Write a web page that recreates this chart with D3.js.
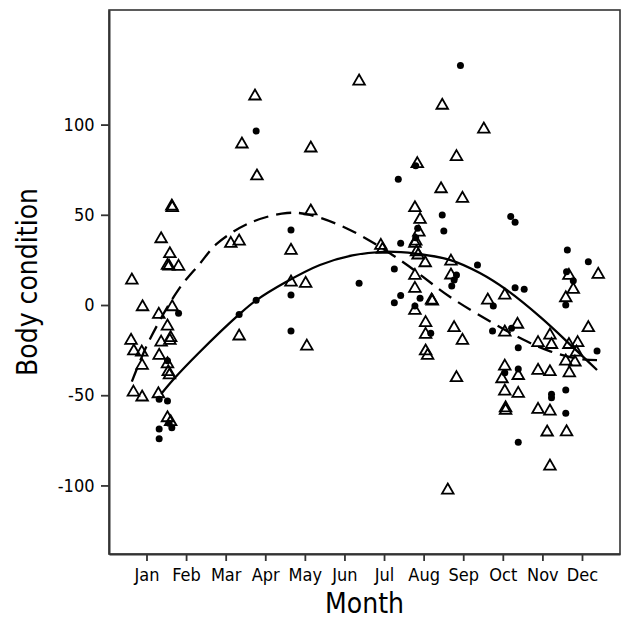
<!DOCTYPE html>
<html>
<head>
<meta charset="utf-8">
<script src="https://cdn.jsdelivr.net/npm/d3@7"></script>
<style>
  html, body { margin: 0; padding: 0; background: #fff; }
  svg text { font-family: "DejaVu Sans Condensed", "DejaVu Sans", sans-serif; font-stretch: condensed; fill: #000; }
</style>
</head>
<body>
<svg id="chart" width="621" height="620"></svg>
<script>
// ---- data (month as decimal, value = body condition) ----
const monthLabels = ["Jan","Feb","Mar","Apr","May","Jun","Jul","Aug","Sep","Oct","Nov","Dec"];
const monthTicks = [1,2,3,4,5,6,7,8,9,10,11,12];
const yTicks = [-100,-50,0,50,100];

const circleMonth = [3.77,8.93,7.80,7.36,4.65,4.65,3.77,1.81,3.34,4.65,1.53,1.32,1.53,1.57,1.64,1.32,1.32,
  8.47,7.85,8.51,7.80,7.42,9.36,7.26,8.83,8.77,6.37,8.71,7.42,7.91,7.26,9.76,10.31,10.54,7.78,8.18,9.74,10.22,10.39,10.05,10.39,10.39,
  10.20,10.31,11.63,12.16,11.61,11.78,11.59,12.38,11.23,11.23,11.59,11.59];
const circleValue = [96.5,132.7,77.2,69.7,41.6,5.5,2.6,-4.6,-5.2,-14.4,-30.9,-52.3,-53.2,-65.6,-68,-68.7,-74.1,
  49.9,42.5,41.0,37.3,34.2,22.2,20.0,16.6,13.9,12.0,10.5,5.2,3.7,1.3,-0.6,9.6,8.7,-0.6,-15.7,-14.4,-12.9,-23.7,-37.5,-35.5,-76.1,
  49.0,45.8,30.5,24.0,18.5,13.5,0,-25.5,-49.5,-51.4,-47.1,-60];

const triMonth = [3.74,3.41,5.15,3.79,6.37,8.47,9.52,8.83,7.84,8.44,8.98,
  1.64,1.65,5.15,1.37,3.13,3.34,4.65,1.59,1.53,1.57,1.81,0.63,4.65,5.02,0.90,1.65,1.31,1.53,3.34,1.61,1.59,0.61,1.37,5.05,0.68,0.88,1.32,1.53,0.89,1.55,1.58,
  0.67,0.89,1.30,1.53,1.61,
  7.78,7.91,7.88,7.80,7.78,6.92,6.96,7.82,7.86,8.04,8.69,8.69,7.78,7.78,8.20,8.22,9.62,10.05,7.78,8.05,8.77,8.05,8.98,10.05,10.37,8.05,8.10,10.05,8.83,10.39,
  9.98,10.05,10.39,10.07,10.07,8.61,
  12.41,11.67,11.78,11.59,10.89,11.19,11.23,11.67,11.89,11.86,12.16,11.59,11.82,10.89,11.19,11.68,
  10.89,11.19,11.12,11.61,11.19];
const triValue = [116.4,89.8,87.6,72.1,124.7,111.3,98.1,82.8,78.9,65.0,59.7,
  55.4,54.6,52.7,37.3,34.7,36.0,30.9,29.0,22.5,22.1,22.0,14.4,13.3,12.6,-0.4,-0.4,-4.6,-11.1,-16.6,-17.5,-19.0,-19.0,-20.0,-22.2,-24.9,-25.5,-27.3,-32.0,-32.9,-36.4,-38.2,
  -47.7,-50.4,-48.6,-61.9,-64.1,
  54.5,48.0,41.0,36.0,34.7,33.6,31.4,30.1,28.3,24.0,24.9,17.2,17.0,9.8,3.3,2.8,3.3,6.1,-2.4,-9.2,-12.0,-15.7,-19.0,-14.4,-10.1,-24.9,-27.3,-33.3,-39.7,-38.5,
  -40.3,-47.1,-48.4,-56.4,-57.8,-102,
  17.6,17.0,9.2,4.6,-20.3,-16.1,-21.3,-21.3,-20.3,-25.5,-12.0,-30.5,-31.0,-35.6,-36.4,-37.0,
  -57.3,-58.2,-69.8,-69.7,-88.7];

// fitted curves
const solidMonth = [1.37,1.69,2.3,3.34,3.77,4.5,5.38,6.2,6.97,7.8,8.66,9.42,10.1,10.95,11.77,12.38];
const solidValue = [-49.3,-41,-27,-5.2,2.6,12.5,22.2,27.5,29.5,28.5,25,17.7,8.3,-6.7,-23.3,-36];
const dashMonth = [0.63,1.04,1.8,2.35,2.78,3.61,4.55,5.13,6.14,7.4,8.66,9.75,10.5,11.15,11.9,12.38];
const dashValue = [-42.5,-21,8.3,23,34,45.5,51,49.9,41.6,25,4.6,-10,-19,-25.3,-29.8,-30.5];

// ---- layout ----
const svg = d3.select("#chart");
const L = 109, R = 620, T = 10, B = 554;
const x = d3.scaleLinear().domain([0.053, 12.96]).range([L, R]);
const y = d3.scaleLinear().domain([-138, 163.5]).range([B, T]);

// panel border
svg.append("rect").attr("x", L).attr("y", T).attr("width", R - L).attr("height", B - T)
  .attr("fill", "none").attr("stroke", "#333").attr("stroke-width", 1.6);

// axes
const yAxis = svg.append("g").attr("transform", `translate(${L},0)`)
  .call(d3.axisLeft(y).tickValues(yTicks).tickSize(8).tickSizeOuter(0).tickPadding(6.5).tickFormat(d => String(d)));
const xAxis = svg.append("g").attr("transform", `translate(0,${B})`)
  .call(d3.axisBottom(x).tickValues(monthTicks).tickSize(7).tickSizeOuter(0).tickPadding(7).tickFormat((d, i) => monthLabels[i]));
[yAxis, xAxis].forEach(g => {
  g.select(".domain").attr("stroke", "#333").attr("stroke-width", 2);
  g.selectAll(".tick line").attr("stroke", "#333").attr("stroke-width", 1.8);
  g.selectAll(".tick text").attr("font-size", 18).attr("fill", "#000")
    .style("font-family", '"DejaVu Sans Condensed", "DejaVu Sans", sans-serif');
});

// curves
const line = d3.line().x(d => x(d[0])).y(d => y(d[1])).curve(d3.curveCatmullRom);
svg.append("path").datum(d3.zip(solidMonth, solidValue)).attr("d", line)
  .attr("fill", "none").attr("stroke", "#000").attr("stroke-width", 2.3);
svg.append("path").datum(d3.zip(dashMonth, dashValue)).attr("d", line)
  .attr("fill", "none").attr("stroke", "#000").attr("stroke-width", 2.3).attr("stroke-dasharray", "15,8");

// points
svg.append("g").selectAll("circle").data(d3.zip(circleMonth, circleValue)).join("circle")
  .attr("cx", d => x(d[0])).attr("cy", d => y(d[1])).attr("r", 3.5).attr("fill", "#000");
const tri = d3.symbol().type(d3.symbolTriangle).size(58);
svg.append("g").selectAll("path").data(d3.zip(triMonth, triValue)).join("path")
  .attr("d", tri).attr("transform", d => `translate(${x(d[0])},${y(d[1]) + 1.2})`)
  .attr("fill", "none").attr("stroke", "#000").attr("stroke-width", 1.8);

// titles
svg.append("text").attr("x", (L + R) / 2).attr("y", 613).attr("text-anchor", "middle")
  .attr("font-size", 28).text("Month");
svg.append("text").attr("transform", `translate(37,${(T + B) / 2}) rotate(-90)`)
  .attr("text-anchor", "middle").attr("font-size", 28).text("Body condition");
</script>
</body>
</html>
